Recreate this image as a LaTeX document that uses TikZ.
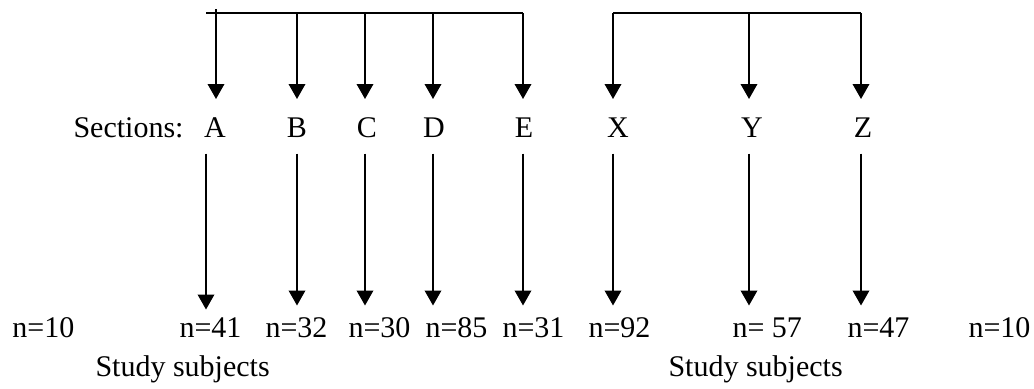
\documentclass[tikz,border=0pt]{standalone}
\usepackage{fontspec}
\setmainfont{Liberation Serif}
\usepackage{tikz}
\usetikzlibrary{arrows.meta}

\begin{document}
\begin{tikzpicture}[
    x=0.4pt, y=-0.4pt,
    >={Triangle[width=6.6pt, length=6pt]},
    % Styles
    every node/.style={font=\fontsize{12}{14}\selectfont},
    bus/.style={line width=0.8pt},
    arr/.style={->, line width=0.8pt},
    downarr/.style={arr, shorten >=7pt},
    countarr/.style={arr, shorten <=6.4pt, shorten >=4.4pt},
    section/.style={anchor=base, inner sep=0pt, text height=8pt,
        text depth=0pt},
    count/.style={anchor=base west, inner sep=0pt, text height=8pt,
        text depth=0pt},
    caption/.style={anchor=base west, inner sep=0pt},
]
\useasboundingbox (0,0) rectangle (1034,388);

% ===== Section letters =====
\node[anchor=base east, inner sep=0pt] (sectlabel) at (184,137) {Sections:};
\node[section] (A) at (215,137) {A};
\node[section] (B) at (297,137) {B};
\node[section] (C) at (367,137) {C};
\node[section] (D) at (434,137) {D};
\node[section] (E) at (524,137) {E};
\node[section] (X) at (618,137) {X};
\node[section] (Y) at (752,137) {Y};
\node[section] (Z) at (863,137) {Z};

% ===== Counts =====
\node[count] (n10l) at (12,337) {n=10};
\node[count] (n41) at (179,337) {n=41};
\node[count] (n32) at (265,337) {n=32};
\node[count] (n30) at (348,337) {n=30};
\node[count] (n85) at (425,337) {n=85};
\node[count] (n31) at (502,337) {n=31};
\node[count] (n92) at (588,337) {n=92};
\node[count] (n57) at (732,337) {n= 57};
\node[count] (n47) at (847,337) {n=47};
\node[count] (n10r) at (968,337) {n=10};

\node[caption] (studyl) at (95,376) {Study subjects};
\node[caption] (studyr) at (668,376) {Study subjects};

% ===== Left bus: A to E =====
\coordinate (busL) at (206,13);
\coordinate (tA) at (216,9);
\coordinate (tB) at (297,13);
\coordinate (tC) at (365,13);
\coordinate (tD) at (433,13);
\coordinate (tE) at (523,13);
\draw[bus] (busL) -- (tE);

\draw[downarr] (tA) -- (tA |- A.north);
\draw[downarr] (tB) -- (tB |- B.north);
\draw[downarr] (tC) -- (tC |- C.north);
\draw[downarr] (tD) -- (tD |- D.north);
\draw[downarr] (tE) -- (tE |- E.north);

\draw[countarr, shorten >=2.8pt] (busL |- A.south) -- (busL |- n41.north);
\draw[countarr] (tB |- B.south) -- (tB |- n32.north);
\draw[countarr] (tC |- C.south) -- (tC |- n30.north);
\draw[countarr] (tD |- D.south) -- (tD |- n85.north);
\draw[countarr] (tE |- E.south) -- (tE |- n31.north);

% ===== Right bus: X to Z =====
\coordinate (tX) at (613,13);
\coordinate (tY) at (749,13);
\coordinate (tZ) at (861,13);
\draw[bus] (tX) -- (tZ);

\draw[downarr] (tX) -- (tX |- X.north);
\draw[downarr] (tY) -- (tY |- Y.north);
\draw[downarr] (tZ) -- (tZ |- Z.north);

\draw[countarr] (tX |- X.south) -- (tX |- n92.north);
\draw[countarr] (tY |- Y.south) -- (tY |- n57.north);
\draw[countarr] (tZ |- Z.south) -- (tZ |- n47.north);

\end{tikzpicture}
\end{document}
